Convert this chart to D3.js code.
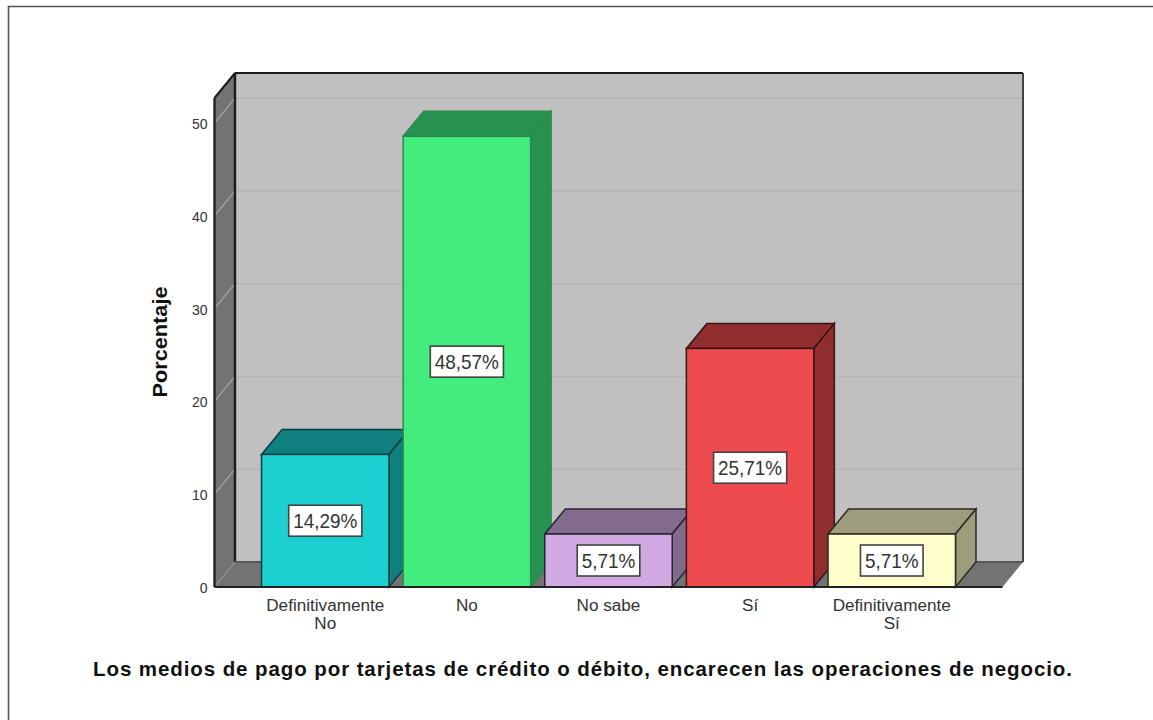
<!DOCTYPE html>
<html><head><meta charset="utf-8">
<style>html,body{margin:0;padding:0;background:#fff}svg{display:block}text{font-family:"Liberation Sans",Arial,sans-serif}</style>
<script src="https://cdn.jsdelivr.net/npm/d3@7"></script></head><body><div id="c"></div>
<script>
const categories=[["Definitivamente","No"],["No"],["No sabe"],["Sí"],["Definitivamente","Sí"]];
const values=[14.29,48.57,5.71,25.71,5.71];
const valueLabels=["14,29%","48,57%","5,71%","25,71%","5,71%"];
const frontColors=["#1ccfd1","#42ec7d","#cfaae3","#ee4b4e","#ffffcc"];
const topColors=["#107f80","#27914f","#826b8c","#902e30","#9d9d7e"];
const strokeColors=["#0b3f40","#2c8a50","#2a2530","#3a1416","#2a2a20"];
const yTicks=[0,10,20,30,40,50];
const yMax=52.7;
const yTitle="Porcentaje";
const chartTitle="Los medios de pago por tarjetas de crédito o débito, encarecen las operaciones de negocio.";

const W=1153,H=720,dx=20.5,dy=-25;
const x0=214.5,x1=1002.5,y0=587,yt=98;
const svg=d3.select("#c").append("svg").attr("width",W).attr("height",H);
const y=d3.scaleLinear().domain([0,yMax]).range([y0,yt]);
const x=d3.scaleBand().domain(d3.range(categories.length)).range([x0,x1]).paddingInner(0.1).paddingOuter(0.332);
const poly=(pts)=>pts.map(p=>p.join(",")).join(" ");

// frame
svg.append("path").attr("d",`M8.5,720V6.5H1153`).attr("fill","none").attr("stroke","#555").attr("stroke-width",1.6);

// walls
svg.append("polygon").attr("points",poly([[x0+dx,yt+dy],[x1+dx,yt+dy],[x1+dx,y0+dy],[x0+dx,y0+dy]])).attr("fill","#c0c0c0");
svg.append("polygon").attr("points",poly([[x0,yt],[x0+dx,yt+dy],[x0+dx,y0+dy],[x0,y0]])).attr("fill","#737373");
svg.append("polygon").attr("points",poly([[x0,y0],[x0+dx,y0+dy],[x1+dx,y0+dy],[x1,y0]])).attr("fill","#737373");

// gridlines
const grid=svg.append("g");
yTicks.slice(1).forEach(t=>{
  grid.append("line").attr("x1",x0+dx).attr("x2",x1+dx).attr("y1",y(t)+dy).attr("y2",y(t)+dy).attr("stroke","#b4b4b4").attr("stroke-width",1.5);
  grid.append("line").attr("x1",x0).attr("x2",x0+dx).attr("y1",y(t)).attr("y2",y(t)+dy).attr("stroke","#a8a8a8").attr("stroke-width",1.2);
});
const edge=(a,b,c,d,col,w)=>grid.append("line").attr("x1",a).attr("y1",b).attr("x2",c).attr("y2",d).attr("stroke",col).attr("stroke-width",w);
edge(x0+dx,yt+dy,x1+dx,yt+dy,"#1c1c1c",2);
edge(x0+dx,yt+dy,x0+dx,y0+dy,"#1c1c1c",2.4);
edge(x0,yt,x0+dx,yt+dy,"#1c1c1c",2);
edge(x0+dx,y0+dy,x1+dx,y0+dy,"#555",2);
edge(x1+dx,yt+dy,x1+dx,y0+dy,"#444",2);
edge(x0,y0,x0+dx,y0+dy,"#999",1);

// bars
const bars=svg.append("g").selectAll("g").data(values).join("g");
bars.each(function(v,i){
  const g=d3.select(this),l=x(i),r=l+x.bandwidth(),t=y(v);
  const s=strokeColors[i];
  g.append("polygon").attr("points",poly([[l,t],[l+dx,t+dy],[r+dx,t+dy],[r,t]])).attr("fill",topColors[i]).attr("stroke",s).attr("stroke-width",1.5);
  g.append("polygon").attr("points",poly([[r,t],[r+dx,t+dy],[r+dx,y0+dy],[r,y0]])).attr("fill",topColors[i]).attr("stroke",s).attr("stroke-width",1.5);
  g.append("rect").attr("x",l).attr("y",t).attr("width",x.bandwidth()).attr("height",y0-t).attr("fill",frontColors[i]).attr("stroke",s).attr("stroke-width",1.5);
});

// base + axes
svg.append("line").attr("x1",x0).attr("x2",x1).attr("y1",y0).attr("y2",y0).attr("stroke","#222").attr("stroke-width",2);
svg.append("line").attr("x1",x0).attr("x2",x0).attr("y1",yt).attr("y2",y0).attr("stroke","#222").attr("stroke-width",2.4);
const ax=svg.append("g").attr("transform",`translate(${x0},1)`).call(d3.axisLeft(y).tickValues(yTicks).tickSize(0).tickPadding(7));
ax.select(".domain").remove();
ax.selectAll("text").attr("font-size",14).attr("fill","#333").style("font-family",'"Liberation Sans",Arial,sans-serif');

// value labels
bars.each(function(v,i){
  const g=d3.select(this),cx=x(i)+x.bandwidth()/2,cy=(y(v)+y0)/2;
  const tx=g.append("text").attr("x",cx).attr("y",cy+7.5).attr("text-anchor","middle").attr("font-size",21).attr("fill","#333").text(valueLabels[i]);
  const tw=tx.node().getComputedTextLength()*0.9;
  tx.attr("textLength",tw).attr("lengthAdjust","spacingAndGlyphs");
  const w=tw+9;
  g.insert("rect","text").attr("x",cx-w/2).attr("y",cy-15.5).attr("width",w).attr("height",31).attr("fill","#fff").attr("stroke","#444").attr("stroke-width",1.6);
});

// category labels
categories.forEach((c,i)=>{
  c.forEach((s,k)=>{
    const t=svg.append("text").attr("text-anchor","middle").attr("font-size",16).attr("fill","#333").attr("x",x(i)+x.bandwidth()/2).attr("y",611+k*17.5).text(s);
    t.attr("textLength",t.node().getComputedTextLength()*1.07).attr("lengthAdjust","spacingAndGlyphs");
  });
});

svg.append("text").attr("transform","translate(167,342) rotate(-90)").attr("text-anchor","middle").attr("font-size",21).attr("font-weight","bold").attr("fill","#111").attr("textLength",111).attr("lengthAdjust","spacingAndGlyphs").text(yTitle);
svg.append("text").attr("x",582.5).attr("y",676).attr("text-anchor","middle").attr("font-size",20.5).attr("font-weight","bold").attr("fill","#111").attr("textLength",979).attr("lengthAdjust","spacing").text(chartTitle);
</script></body></html>
